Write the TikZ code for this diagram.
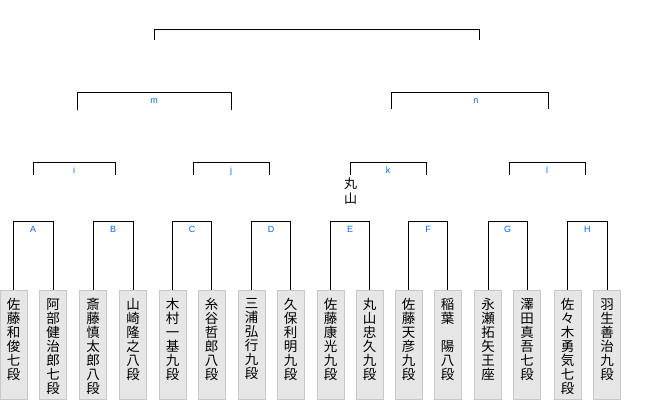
\documentclass[tikz,border=0pt]{standalone}
\usepackage{fontspec}
\setsansfont{Liberation Sans}
\newfontfamily\jpfont{Noto Sans CJK JP}
\usetikzlibrary{positioning,calc}
\definecolor{BoxFill}{RGB}{230,230,230}
\definecolor{BoxLine}{RGB}{200,200,200}
\definecolor{LabelBlue}{RGB}{0,102,255}
\newcommand{\vname}[1]{\parbox[t][109pt][t]{27pt}{\centering\vspace*{8pt}#1}}

\begin{document}
\begin{tikzpicture}[
    x=1pt,y=-1pt,
    player/.style={draw=BoxLine,fill=BoxFill,line width=1pt,inner sep=0pt,
                   anchor=north,font=\jpfont\fontsize{13.5}{14}\selectfont},
    bracket/.style={draw=black,line width=1pt},
    lbl/.style={font=\sffamily\fontsize{9}{9}\selectfont,text=LabelBlue,
                anchor=base,yshift=-11.5pt,inner sep=0pt}
  ]
    \useasboundingbox (0,0) rectangle (660,400);
    % players
    \node[player] (p1)  at (13.5,290)  {\vname{佐\\藤\\和\\俊\\七\\段}};
    \node[player] (p2)  at (53,290)    {\vname{阿\\部\\健\\治\\郎\\七\\段}};
    \node[player] (p3)  at (93,290)    {\vname{斎\\藤\\慎\\太\\郎\\八\\段}};
    \node[player] (p4)  at (133,290)   {\vname{山\\崎\\隆\\之\\八\\段}};
    \node[player] (p5)  at (172.5,290) {\vname{木\\村\\一\\基\\九\\段}};
    \node[player] (p6)  at (211.5,290) {\vname{糸\\谷\\哲\\郎\\八\\段}};
    \node[player] (p7)  at (251.5,290) {\vname{三\\浦\\弘\\行\\九\\段}};
    \node[player] (p8)  at (290.5,290) {\vname{久\\保\\利\\明\\九\\段}};
    \node[player] (p9)  at (330.5,290) {\vname{佐\\藤\\康\\光\\九\\段}};
    \node[player] (p10) at (369.5,290) {\vname{丸\\山\\忠\\久\\九\\段}};
    \node[player] (p11) at (408.5,290) {\vname{佐\\藤\\天\\彦\\九\\段}};
    \node[player] (p12) at (447.5,290) {\vname{稲\\葉\\　\\陽\\八\\段}};
    \node[player] (p13) at (488,290)   {\vname{永\\瀬\\拓\\矢\\王\\座}};
    \node[player] (p14) at (527,290)   {\vname{澤\\田\\真\\吾\\七\\段}};
    \node[player] (p15) at (567.5,290) {\vname{佐\\々\\木\\勇\\気\\七\\段}};
    \node[player] (p16) at (607,290)   {\vname{羽\\生\\善\\治\\九\\段}};
    % first round
    \draw[bracket] (p1.north)  -- ++(0,-69) -| node[lbl,pos=0.25] (lA) {A} (p2.north);
    \draw[bracket] (p3.north)  -- ++(0,-69) -| node[lbl,pos=0.25] (lB) {B} (p4.north);
    \draw[bracket] (p5.north)  -- ++(0,-69) -| node[lbl,pos=0.25] (lC) {C} (p6.north);
    \draw[bracket] (p7.north)  -- ++(0,-69) -| node[lbl,pos=0.25] (lD) {D} (p8.north);
    \draw[bracket] (p9.north)  -- ++(0,-69) -| node[lbl,pos=0.25] (lE) {E} (p10.north);
    \draw[bracket] (p11.north) -- ++(0,-69) -| node[lbl,pos=0.25] (lF) {F} (p12.north);
    \draw[bracket] (p13.north) -- ++(0,-69) -| node[lbl,pos=0.25] (lG) {G} (p14.north);
    \draw[bracket] (p15.north) -- ++(0,-69) -| node[lbl,pos=0.25] (lH) {H} (p16.north);
    % second round
    \draw[bracket] (33,175)  -- (33,162)  -| node[lbl,pos=0.25] (li) {i} (115,175);
    \draw[bracket] (193,175) -- (193,162) -| node[lbl,pos=0.25] (lj) {j} (269,175);
    \draw[bracket] (350,175) -- (350,162) -| node[lbl,pos=0.25] (lk) {k} (426,175);
    \draw[bracket] (509,175) -- (509,162) -| node[lbl,pos=0.25] (ll) {l} (585,175);
    \node[font=\jpfont\fontsize{13}{15}\selectfont,align=center,anchor=north,inner sep=0pt]
      (maru) at (350.5,177) {丸\\山};
    % semifinals
    \draw[bracket] (77,110)  -- (77,92)  -| node[lbl,pos=0.25] (lm) {m} (231,110);
    \draw[bracket] (391,109) -- (391,92) -| node[lbl,pos=0.27] (ln) {n} (548,109);
    % final
    \draw[bracket] (154,40) -- (154,29) -| (479,40);
\end{tikzpicture}
\end{document}
